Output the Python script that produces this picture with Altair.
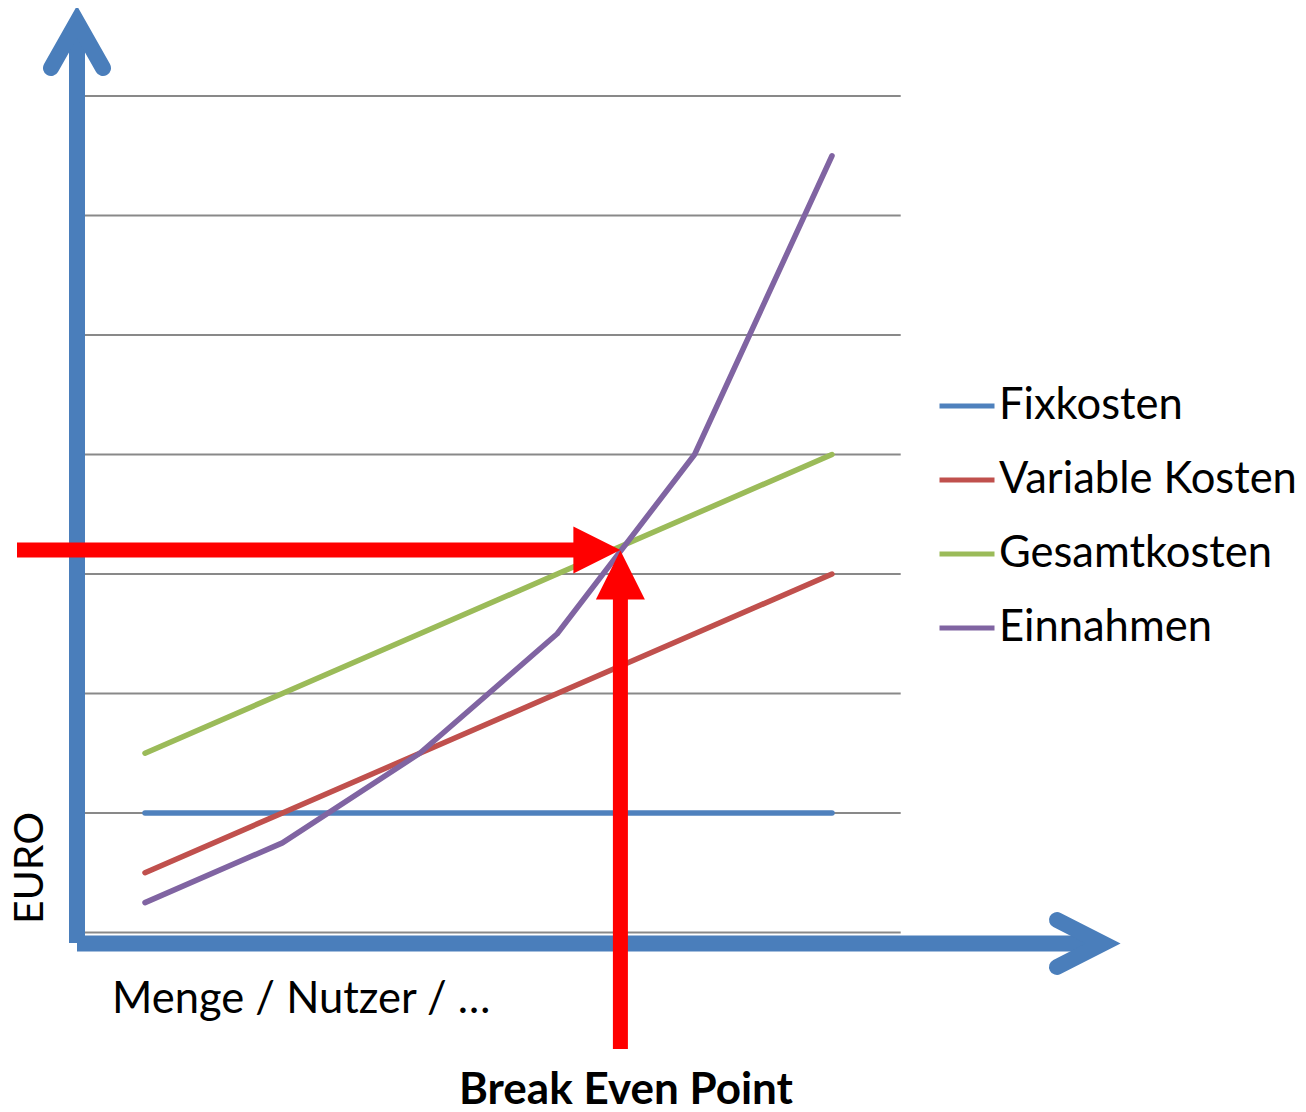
import altair as alt
import pandas as pd

# ---------------- data ----------------
mengen = [0, 1, 2, 3, 4, 5]
fixkosten = [1.0, 1.0, 1.0, 1.0, 1.0, 1.0]
variable_kosten = [0.5, 1.0, 1.5, 2.0, 2.5, 3.0]
gesamtkosten = [1.5, 2.0, 2.5, 3.0, 3.5, 4.0]
einnahmen = [0.25, 0.75, 1.5, 2.5, 4.0, 6.5]
series_names = ["Fixkosten", "Variable Kosten", "Gesamtkosten", "Einnahmen"]
series_colors = ["#4F81BD", "#C0504D", "#9BBB59", "#8064A2"]
grid_values = [0, 1, 2, 3, 4, 5, 6, 7]
break_even = [3.46, 3.2]          # (menge, euro) of the break even point
y_title = "EURO"
x_title = "Menge / Nutzer / …"
bep_title = "Break Even Point"

# ---------------- layout (pixel <-> data) ----------------
W, H = 1290, 1104
PX_X, PX_Y = 137.4, 119.5           # pixels per data unit
OX, OY = 137.0, 924.5               # view pixel of data origin (0, 0)


def dx(px):
    return (px - OX) / PX_X


def dy(py):
    return (OY - py) / PX_Y


x_dom = [dx(0), dx(W)]
y_dom = [dy(H), dy(0)]
xs = alt.Scale(domain=x_dom, nice=False, zero=False)
ys = alt.Scale(domain=y_dom, nice=False, zero=False)

# ---------------- series ----------------
rows = []
for name, vals in zip(series_names, [fixkosten, variable_kosten, gesamtkosten, einnahmen]):
    for m, v in zip(mengen, vals):
        rows.append({"serie": name, "menge": m, "euro": v})
df = pd.DataFrame(rows)

lines = alt.Chart(df).mark_line(strokeWidth=5.5, strokeCap="round", strokeJoin="round").encode(
    x=alt.X("menge:Q", scale=xs, axis=None),
    y=alt.Y("euro:Q", scale=ys, axis=None),
    color=alt.Color(
        "serie:N",
        scale=alt.Scale(domain=series_names, range=series_colors),
        sort=series_names,
        legend=alt.Legend(
            title=None, orient="none", legendX=929, legendY=368, padding=0,
            symbolType="stroke", symbolStrokeWidth=5, symbolSize=3025,
            labelFontSize=43.5, labelFont="Lato", labelColor="black",
            labelLimit=500, labelOffset=2, rowPadding=22,
        ),
    ),
    detail="serie:N",
    order="menge:Q",
)

# ---------------- grid ----------------
grid_df = pd.DataFrame({"g": grid_values, "x0": -0.5, "x1": 5.5})
grid = alt.Chart(grid_df).mark_rule(color="#898989", strokeWidth=2).encode(
    x=alt.X("x0:Q", scale=xs, axis=None), x2="x1:Q",
    y=alt.Y("g:Q", scale=ys, axis=None),
)

# ---------------- blue axis arrows ----------------
ax_x = dx(69)          # y-axis shaft centre
ax_y = dy(935.5)       # x-axis shaft centre
shaft_df = pd.DataFrame([
    {"part": "ys", "o": 0, "x": ax_x, "y": dy(935)},
    {"part": "ys", "o": 1, "x": ax_x, "y": dy(14)},
    {"part": "xs", "o": 0, "x": dx(69), "y": ax_y},
    {"part": "xs", "o": 1, "x": dx(1095), "y": ax_y},
])
head_df = pd.DataFrame([
    {"part": "yh", "o": 0, "x": dx(43), "y": dy(60)},
    {"part": "yh", "o": 1, "x": ax_x, "y": dy(14)},
    {"part": "yh", "o": 2, "x": dx(95), "y": dy(60)},
    {"part": "xh", "o": 0, "x": dx(1049), "y": dy(912)},
    {"part": "xh", "o": 1, "x": dx(1095), "y": ax_y},
    {"part": "xh", "o": 2, "x": dx(1049), "y": dy(959)},
])
blue = "#4A7EBB"
shafts = alt.Chart(shaft_df).mark_line(color=blue, strokeWidth=16, strokeCap="butt").encode(
    x=alt.X("x:Q", scale=xs, axis=None), y=alt.Y("y:Q", scale=ys, axis=None),
    detail="part:N", order="o:Q",
)
heads = alt.Chart(head_df).mark_line(color=blue, strokeWidth=16, strokeCap="round", strokeJoin="miter").encode(
    x=alt.X("x:Q", scale=xs, axis=None), y=alt.Y("y:Q", scale=ys, axis=None),
    detail="part:N", order="o:Q",
)

# ---------------- red break-even arrows ----------------
bx, by = break_even
tip_px = OX + bx * PX_X
tip_py = OY - by * PX_Y
red_df = pd.DataFrame([
    {"part": "h", "o": 0, "x": dx(9), "y": by},
    {"part": "h", "o": 1, "x": dx(tip_px - 45), "y": by},
    {"part": "v", "o": 0, "x": bx, "y": dy(1041)},
    {"part": "v", "o": 1, "x": bx, "y": dy(tip_py + 48)},
])
red_shafts = alt.Chart(red_df).mark_line(color="#FF0000", strokeWidth=15, strokeCap="butt").encode(
    x=alt.X("x:Q", scale=xs, axis=None), y=alt.Y("y:Q", scale=ys, axis=None),
    detail="part:N", order="o:Q",
)
h_head = alt.Chart(pd.DataFrame([{"x": dx(tip_px - 23.5), "y": by}])).mark_point(
    shape="M-1,-1L1,0L-1,1Z", filled=True, fill="#FF0000", opacity=1, strokeWidth=0, size=47 * 47,
).encode(x=alt.X("x:Q", scale=xs, axis=None), y=alt.Y("y:Q", scale=ys, axis=None))
v_head = alt.Chart(pd.DataFrame([{"x": bx, "y": dy(tip_py + 25)}])).mark_point(
    shape="M-1,1L0,-1L1,1Z", filled=True, fill="#FF0000", opacity=1, strokeWidth=0, size=49 * 49,
).encode(x=alt.X("x:Q", scale=xs, axis=None), y=alt.Y("y:Q", scale=ys, axis=None))

# ---------------- texts ----------------
t_x = alt.Chart(pd.DataFrame([{"t": x_title, "x": dx(104), "y": dy(1005)}])).mark_text(
    font="Lato", fontSize=43.5, align="left", baseline="alphabetic", color="black",
).encode(x=alt.X("x:Q", scale=xs, axis=None), y=alt.Y("y:Q", scale=ys, axis=None), text="t:N")
t_bep = alt.Chart(pd.DataFrame([{"t": bep_title, "x": dx(618), "y": dy(1096)}])).mark_text(
    font="Lato", fontSize=44, fontWeight="bold", align="center", baseline="alphabetic", color="black",
).encode(x=alt.X("x:Q", scale=xs, axis=None), y=alt.Y("y:Q", scale=ys, axis=None), text="t:N")
t_y = alt.Chart(pd.DataFrame([{"t": y_title, "x": dx(35), "y": dy(860)}])).mark_text(
    font="Lato", fontSize=41, angle=270, align="center", baseline="alphabetic", color="black",
).encode(x=alt.X("x:Q", scale=xs, axis=None), y=alt.Y("y:Q", scale=ys, axis=None), text="t:N")

chart = alt.layer(
    grid, lines, shafts, heads, red_shafts, h_head, v_head, t_x, t_bep, t_y
).properties(
    width=W, height=H, padding=0, autosize="none", background="white"
).configure_view(stroke=None)

chart.save("out.html", embed_options={"renderer": "svg", "actions": False})
